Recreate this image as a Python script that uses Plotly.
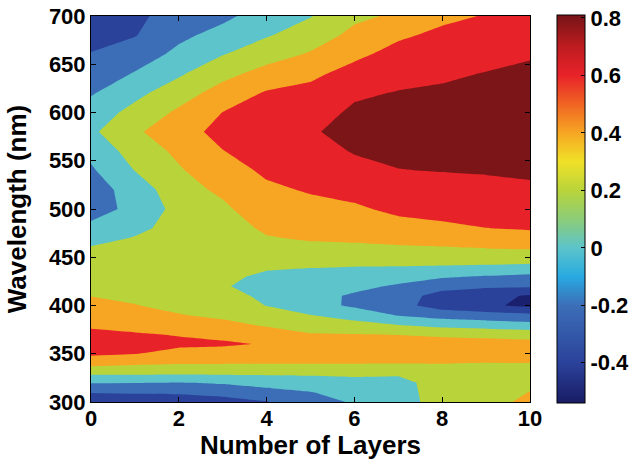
import plotly.graph_objects as go

# Number of deposited layers (x) and probe wavelength in nm (y)
layers = [0, 1, 2, 3, 4, 5, 6, 7, 8, 9, 10]
wavelengths = [300, 310, 320, 330, 340, 350, 360, 370, 380, 390, 400, 410, 420,
               430, 440, 450, 460, 470, 480, 500, 520, 540, 560, 580, 600, 620,
               640, 660, 680, 700]

# Measured response, one list per layer count (values follow `wavelengths`)
response_by_layer = [
    [-0.42, -0.29, -0.09, 0.144, 0.367, 0.534, 0.62, 0.54, 0.471, 0.412, 0.353, 0.296, 0.259,
     0.222, 0.185, 0.148, 0.111, 0.033, -0.062, -0.162, -0.176, -0.127, -0.049, 0.063, -0.013,
     -0.117, -0.204, -0.291, -0.357, -0.42],
    [-0.40, -0.282, -0.095, 0.14, 0.333, 0.505, 0.573, 0.515, 0.443, 0.371, 0.305, 0.273, 0.246,
     0.219, 0.192, 0.165, 0.138, 0.111, 0.05, -0.06, -0.03, 0.105, 0.189, 0.27, 0.164,
     0.047, -0.087, -0.195, -0.31, -0.34],
    [-0.40, -0.275, -0.108, 0.136, 0.313, 0.438, 0.536, 0.491, 0.40, 0.309, 0.26, 0.215, 0.17,
     0.168, 0.165, 0.163, 0.16, 0.163, 0.175, 0.17, 0.24, 0.28, 0.34, 0.42, 0.334,
     0.214, 0.074, -0.055, -0.139, -0.22],
    [-0.38, -0.233, -0.078, 0.136, 0.31, 0.41, 0.53, 0.447, 0.342, 0.269, 0.218, 0.166, 0.115,
     0.13, 0.145, 0.16, 0.18, 0.2, 0.22, 0.27, 0.33, 0.42, 0.495, 0.56, 0.503,
     0.38, 0.244, 0.094, -0.04, -0.14],
    [-0.31, -0.17, -0.023, 0.136, 0.308, 0.389, 0.485, 0.376, 0.282, 0.191, 0.095, 0.061, 0.037,
     0.074, 0.117, 0.174, 0.231, 0.289, 0.328, 0.397, 0.466, 0.532, 0.596, 0.66, 0.59,
     0.521, 0.373, 0.217, 0.084, -0.02],
    [-0.18, -0.107, 0.006, 0.136, 0.306, 0.369, 0.371, 0.312, 0.214, 0.105, -0.03, -0.04, -0.02,
     0.043, 0.108, 0.185, 0.262, 0.32, 0.361, 0.443, 0.517, 0.573, 0.628, 0.684, 0.625,
     0.553, 0.462, 0.321, 0.197, 0.09],
    [-0.08, -0.016, 0.049, 0.136, 0.306, 0.369, 0.369, 0.306, 0.171, 0.009, -0.13, -0.124, -0.054,
     0.023, 0.098, 0.185, 0.27, 0.331, 0.378, 0.472, 0.56, 0.645, 0.713, 0.75, 0.73,
     0.674, 0.568, 0.461, 0.35, 0.26],
    [0.0, 0.015, 0.03, 0.135, 0.303, 0.368, 0.367, 0.296, 0.096, -0.111, -0.226, -0.204, -0.124,
     -0.02, 0.094, 0.188, 0.281, 0.358, 0.431, 0.541, 0.619, 0.696, 0.735, 0.771, 0.75,
     0.71, 0.641, 0.563, 0.472, 0.33],
    [0.20, 0.20, 0.20, 0.25, 0.302, 0.367, 0.364, 0.275, 0.029, -0.178, -0.40, -0.38, -0.226,
     -0.076, 0.084, 0.19, 0.29, 0.378, 0.465, 0.56, 0.636, 0.706, 0.743, 0.781, 0.762,
     0.724, 0.676, 0.608, 0.54, 0.46],
    [0.24, 0.22, 0.22, 0.25, 0.295, 0.379, 0.374, 0.25, 0.0, -0.22, -0.47, -0.44, -0.269,
     -0.115, 0.071, 0.197, 0.31, 0.405, 0.498, 0.577, 0.654, 0.714, 0.75, 0.786, 0.779,
     0.743, 0.707, 0.646, 0.578, 0.51],
    [0.34, 0.304, 0.27, 0.26, 0.296, 0.384, 0.376, 0.214, -0.033, -0.256, -0.54, -0.52, -0.275,
     -0.15, 0.05, 0.2, 0.322, 0.433, 0.516, 0.596, 0.676, 0.724, 0.758, 0.80, 0.805,
     0.759, 0.725, 0.689, 0.644, 0.60],
]

x_ticks = [0, 2, 4, 6, 8, 10]
y_ticks = [300, 350, 400, 450, 500, 550, 600, 650, 700]
cbar_ticks = [-0.4, -0.2, 0, 0.2, 0.4, 0.6, 0.8]
cbar_labels = ["-0.4", "-0.2", "0", "0.2", "0.4", "0.6", "0.8"]

cmin, cmax = -0.54, 0.81

# jet-like colour ramp for the colour bar, anchored at data values
ramp = [
    (-0.54, "rgb(25,28,100)"),
    (-0.40, "rgb(43,66,155)"),
    (-0.20, "rgb(60,110,183)"),
    (-0.10, "rgb(40,170,225)"),
    (0.00, "rgb(92,196,202)"),
    (0.10, "rgb(140,205,120)"),
    (0.20, "rgb(185,212,58)"),
    (0.30, "rgb(240,225,40)"),
    (0.40, "rgb(246,166,35)"),
    (0.50, "rgb(240,100,35)"),
    (0.60, "rgb(232,34,41)"),
    (0.70, "rgb(190,28,32)"),
    (0.80, "rgb(123,21,23)"),
    (0.81, "rgb(120,20,22)"),
]
colorscale = [[(v - cmin) / (cmax - cmin), c] for v, c in ramp]

# contour levels and the flat colour of each filled band (lowest band first)
level_start, level_end, level_step = -0.5, 0.7, 0.2
band_colors = [
    "rgb(27,32,110)",
    "rgb(43,66,155)",
    "rgb(60,110,183)",
    "rgb(92,196,202)",
    "rgb(185,212,58)",
    "rgb(246,166,35)",
    "rgb(232,34,41)",
    "rgb(123,21,23)",
]
n_bands = len(band_colors)
band_scale = []
for k, c in enumerate(band_colors):
    band_scale.append([k / n_bands, c])
    band_scale.append([(k + 1) / n_bands, c])
band_zmin = level_start - level_step
band_zmax = band_zmin + level_step * n_bands

font_family = "Liberation Sans, Arial, sans-serif"
tick_font = dict(family=font_family, size=22, color="black", weight="bold")
title_font = dict(family=font_family, size=26, color="black", weight="bold")

fig = go.Figure()

fig.add_trace(go.Contour(
    x=layers,
    y=wavelengths,
    z=response_by_layer,
    transpose=True,
    colorscale=band_scale,
    zmin=band_zmin,
    zmax=band_zmax,
    zauto=False,
    autocontour=False,
    contours=dict(start=level_start, end=level_end, size=level_step,
                  coloring="fill", showlines=False),
    line=dict(width=0, smoothing=0),
    showscale=False,
    hoverinfo="skip",
))

# continuous colour bar
fig.add_trace(go.Scatter(
    x=[None], y=[None], mode="markers", showlegend=False,
    marker=dict(
        color=[0], colorscale=colorscale, cmin=cmin, cmax=cmax, showscale=True,
        colorbar=dict(
            x=(557 - 91) / 439, xanchor="left", xpad=0,
            y=0.5, yanchor="middle", len=1.005, lenmode="fraction", ypad=0,
            thickness=28, outlinecolor="black", outlinewidth=1,
            tickvals=cbar_ticks, ticktext=cbar_labels,
            ticks="inside", ticklen=4, tickcolor="black",
            tickfont=tick_font,
        ),
    ),
))

axis_common = dict(
    showline=True, linecolor="black", linewidth=1, mirror="ticks",
    ticks="inside", ticklen=5, tickwidth=1, tickcolor="black",
    showgrid=False, zeroline=False, tickfont=tick_font, automargin=False,
)

fig.update_layout(
    width=633, height=460,
    margin=dict(l=91, r=103, t=16, b=58, autoexpand=False),
    paper_bgcolor="white", plot_bgcolor="white",
    xaxis=dict(range=[0, 10], tickvals=x_ticks, ticklabelstandoff=-3,
               title=dict(text="Number of Layers", font=title_font, standoff=5),
               **axis_common),
    yaxis=dict(range=[300, 700], tickvals=y_ticks,
               title=dict(text="Wavelength (nm)", font=title_font, standoff=14),
               **axis_common),
)

fig.write_html("out.html")
